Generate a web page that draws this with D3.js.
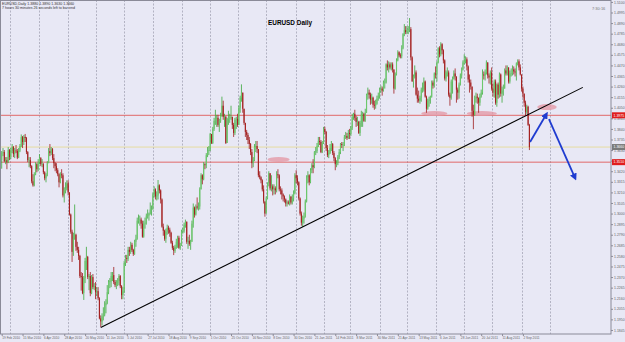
<!DOCTYPE html>
<html>
<head>
<meta charset="utf-8">
<script src="https://cdn.jsdelivr.net/npm/d3@7"></script>
<style>
body { margin: 0; background: #e8e8f5; }
svg { display: block; font-family: "Liberation Sans", Arial, sans-serif; }
</style>
</head>
<body>
<div id="wrapper"></div>
<script>
// EURUSD daily bars, 18 Feb 2010 .. 9 Sep 2011 (weekdays)
// prices stored as pips above 1.0000 (3530 -> 1.3530)
const startDate = "2010-02-18"
const firstOpen = 3590
const closes = [
 3530,3600,3610,3520,3530,3510,3630,
 3560,3620,3660,3590,3625,3620,3555,3625,3670,3760,3710,3760,3750,3610,3530,3530,3470,3320,3280,3390,3490,3440,3510,
 3550,3490,3490,3410,3350,3380,3500,3620,3600,3640,3550,3500,3470,3430,3390,3310,3390,3380,3180,3230,3250,3300,
 3210,2990,2820,2620,2750,2790,2670,2640,2580,2380,2370,2210,2360,2530,2570,2370,2380,2210,2370,2270,2280,
 2220,2230,2160,1960,1930,1980,1990,2090,2110,2220,2320,2330,2380,2390,2320,2290,2310,2330,2380,2280,2190,2230,
 2510,2560,2550,2640,2620,2690,2640,2600,2720,2750,2930,2940,2940,2900,2770,2900,2910,2980,2980,3000,3040,3040,
 3190,3240,3170,3180,3280,3230,3140,2870,2830,2750,2820,2860,2840,2810,2710,2660,2630,2670,2720,2760,2660,2680,
 2820,2830,2890,2920,2720,2730,2700,2720,2900,3060,2990,3070,3060,3070,3240,3380,3340,3490,3480,3580,3620,3630,
 3790,3700,3840,3920,3940,3950,3880,3920,3970,4070,3960,3960,3700,3940,3950,3950,3960,3880,3800,3930,3940,
 3880,4050,4150,4200,4040,3900,3810,3780,3730,3690,3610,3500,3530,3660,3670,3640,3380,3360,3330,3240,3120,3000,
 3150,3300,3400,3250,3270,3240,3250,3230,3390,3380,3240,3230,3190,3170,3140,3100,3110,3100,3170,3110,3150,3200,3380,
 3350,3310,3150,3000,2910,2950,2970,3120,3360,3380,3310,3430,3480,3460,3610,3620,3670,3720,3710,3610,3700,
 3840,3810,3650,3580,3600,3650,3690,3600,3550,3490,3500,3560,3610,3690,3680,3680,3760,3770,3750,3800,
 3790,3850,3960,3990,3950,3910,3910,3800,3900,3980,3990,3920,4000,4180,4200,4180,4130,4150,4080,4070,4090,4140,4170,
 4230,4240,4220,4300,4300,4480,4450,4480,4450,4480,4430,4240,4380,4520,4600,4570,4560,4640,4780,4820,4800,
 4820,4830,4830,4550,4310,4360,4400,4180,4140,4120,4150,4230,4230,4310,4160,4040,4120,4130,4160,4300,4270,4390,
 4380,4500,4640,4580,4680,4620,4520,4340,4400,4400,4180,4150,4310,4340,4390,4360,4230,4200,4280,4370,4430,4500,
 4520,4530,4460,4330,4300,4260,4020,3980,4140,4160,4150,4100,4160,4200,4380,4370,4400,4500,4370,4350,4400,
 4240,4200,4310,4100,4280,4180,4380,4190,4220,4240,4420,4390,4450,4310,4390,4390,4430,4410,4400,4490,4510,4450,4380,
 4240,4190,4100,4010,4060,3880,3660
]
const highs = [
 3620,3620,3650,3630,3560,3560,3660,
 3640,3650,3690,3670,3650,3680,3640,3650,3690,3785,3770,3780,3790,3760,3620,3560,3560,3480,3390,3410,3510,3500,3540,
 3590,3560,3540,3500,3420,3400,3520,3650,3690,3660,3650,3590,3510,3500,3450,3400,3410,3440,3400,3260,3310,3330,
 3330,3210,3000,2840,2810,3090,2800,2720,2670,2590,2420,2410,2380,2560,2670,2580,2400,2420,2390,2400,2310,
 2320,2270,2270,2170,1990,2010,2070,2130,2150,2290,2340,2360,2420,2420,2470,2340,2340,2360,2400,2390,2290,2270,
 2530,2590,2590,2670,2670,2720,2710,2650,2740,2790,2960,2990,2980,2960,2930,2930,2960,3000,3040,3010,3110,3080,
 3210,3270,3250,3220,3333,3290,3240,3150,2900,2840,2850,2890,2880,2860,2820,2730,2680,2690,2750,2780,2780,2710,
 2840,2860,2910,2940,2920,2770,2790,2740,2930,3100,3070,3090,3160,3110,3260,3400,3390,3510,3500,3600,3660,3670,
 3800,3780,3860,3950,4030,3980,3980,3940,4000,4160,4120,3990,3970,3950,4020,3990,4070,3960,3900,3950,3960,
 3990,4070,4170,4282,4200,4040,3900,3830,3800,3760,3700,3640,3560,3690,3720,3720,3640,3420,3370,3340,3280,3120,
 3170,3310,3420,3400,3380,3290,3290,3270,3420,3440,3390,3270,3250,3200,3180,3150,3130,3130,3190,3170,3190,3230,3400,
 3430,3380,3320,3160,3020,2980,3010,3140,3380,3420,3390,3450,3500,3540,3620,3660,3700,3760,3760,3730,3720,
 3860,3862,3820,3680,3630,3690,3720,3700,3620,3560,3530,3580,3640,3700,3710,3710,3780,3810,3800,3830,
 3840,3870,3990,4000,4030,3970,3960,3920,3920,4020,4010,4000,4040,4190,4250,4230,4200,4190,4160,4120,4130,4170,4200,
 4250,4270,4260,4320,4340,4490,4520,4510,4500,4500,4500,4430,4400,4540,4620,4610,4590,4670,4790,4880,4860,
 4860,4860,4940,4850,4560,4380,4470,4420,4250,4220,4170,4250,4300,4350,4320,4170,4140,4160,4170,4320,4320,4400,
 4460,4510,4650,4660,4700,4690,4630,4530,4420,4450,4420,4200,4330,4360,4420,4440,4360,4250,4300,4390,4450,4520,
 4580,4560,4550,4470,4380,4330,4260,4080,4170,4200,4190,4150,4190,4230,4430,4410,4430,4520,4500,4390,4420,
 4450,4290,4330,4330,4290,4300,4400,4390,4260,4280,4440,4470,4470,4450,4420,4440,4470,4460,4440,4500,4530,4530,4480,
 4380,4260,4190,4120,4080,4070,3890
]
const lows = [
 3500,3445,3570,3510,3490,3440,3500,
 3530,3540,3600,3560,3550,3600,3540,3550,3610,3660,3650,3680,3710,3590,3510,3460,3450,3300,3267,3270,3380,3410,3420,
 3490,3470,3460,3390,3330,3310,3370,3550,3570,3580,3530,3450,3420,3400,3370,3260,3300,3350,3160,3110,3200,3230,
 3180,2980,2800,2520,2580,2740,2630,2610,2540,2360,2235,2200,2143,2310,2440,2350,2240,2180,2200,2250,2240,
 2150,2180,2140,1950,1875,1890,1940,1980,2010,2100,2200,2260,2270,2330,2300,2270,2250,2280,2290,2260,2150,2150,
 2210,2480,2510,2530,2580,2600,2620,2580,2590,2670,2740,2900,2880,2850,2760,2760,2850,2890,2950,2930,2990,2980,
 3040,3160,3140,3130,3140,3200,3100,2860,2780,2730,2710,2790,2800,2770,2700,2640,2588,2610,2650,2660,2650,2640,
 2680,2800,2810,2860,2700,2650,2680,2640,2720,2860,2960,2980,3040,3030,3040,3240,3290,3330,3440,3450,3560,3580,
 3620,3690,3690,3820,3880,3860,3860,3810,3900,3960,3930,3860,3690,3700,3880,3900,3930,3840,3760,3780,3840,
 3860,3880,4000,4110,4000,3880,3760,3730,3690,3640,3580,3450,3460,3520,3610,3600,3360,3340,3300,3220,3100,2969,
 3000,3140,3270,3230,3220,3180,3190,3190,3210,3350,3220,3190,3140,3120,3110,3070,3070,3090,3080,3090,3090,3120,3190,
 3300,3280,3130,2980,2880,2867,2900,2960,3110,3300,3280,3300,3400,3400,3450,3580,3600,3660,3680,3600,3600,
 3690,3790,3620,3560,3550,3590,3620,3580,3520,3430,3460,3480,3540,3590,3650,3620,3670,3740,3730,3740,
 3740,3770,3830,3930,3920,3860,3870,3790,3770,3860,3860,3910,3910,4000,4130,4140,4080,4090,4050,4030,4040,4080,4120,
 4140,4200,4170,4210,4240,4290,4420,4400,4430,4420,4400,4190,4230,4370,4510,4550,4540,4540,4630,4760,4780,
 4780,4780,4800,4520,4310,4250,4340,4170,4100,4100,4090,4110,4200,4210,4150,4000,4030,4060,4090,4150,4240,4250,
 4340,4310,4490,4550,4560,4580,4490,4320,4310,4360,4160,4070,4130,4190,4330,4320,4100,4130,4140,4270,4340,4420,
 4480,4490,4420,4300,4200,4230,3960,3837,3970,4100,4090,4000,4070,4150,4180,4330,4320,4380,4340,4290,4280,
 4220,4160,4150,4080,4060,4140,4150,4160,4100,4170,4240,4370,4370,4290,4290,4360,4370,4380,4360,4320,4470,4420,4370,
 4210,4150,4060,3970,3990,3870,3630
]

const xTickLabels = ["19 Feb 2010","15 Mar 2010","6 Apr 2010","28 Apr 2010","20 May 2010","11 Jun 2010",
  "5 Jul 2010","27 Jul 2010","18 Aug 2010","9 Sep 2010","1 Oct 2010","25 Oct 2010","16 Nov 2010",
  "8 Dec 2010","30 Dec 2010","21 Jan 2011","14 Feb 2011","8 Mar 2011","30 Mar 2011","21 Apr 2011",
  "13 May 2011","6 Jun 2011","28 Jun 2011","20 Jul 2011","11 Aug 2011","2 Sep 2011"]
const yTicks = [1.5100,1.4995,1.4890,1.4785,1.4680,1.4575,1.4470,1.4365,1.4260,1.4155,1.4050,1.3945,
  1.3840,1.3735,1.3630,1.3525,1.3420,1.3315,1.3210,1.3105,1.3000,1.2895,1.2790,1.2685,1.2580,1.2475,
  1.2370,1.2265,1.2160,1.2055,1.1950,1.1845]

// drawn objects (bar index, price)
const hLines = [1.3975, 1.3510]
const trendLine = [[77, 1.1869], [447, 1.4252]]
const zones = [[205, 222, 1.3560, 1.3511], [323, 343, 1.4017, 1.3968], [358, 381, 1.4017, 1.3968], [412, 427, 1.4087, 1.4027]]
const arrows = [[[406.5, 1.3710], [419, 1.3985]], [[421, 1.3938], [441, 1.3353]]]

const pip = v => 1 + v / 10000
const bars = closes.map((c, i) => {
    const o = pip(i == 0 ? firstOpen : closes[i - 1])
    const cl = pip(c)
    return {
        i: i, o: o, c: cl,
        h: Math.max(pip(highs[i]), o, cl),
        l: Math.min(pip(lows[i]), o, cl)
    }
})

const width = 625, height = 342
const plotW = 611, plotH = 334

const svg = d3.select("#wrapper").append("svg")
    .attr("width", width).attr("height", height)

svg.append("rect").attr("width", width).attr("height", height).attr("fill", "#e8e8f5")

const x = d3.scaleLinear().domain([0, 469]).range([0.4, 611.5])
const y = d3.scaleLinear().domain([1.1805, 1.5119]).range([plotH, 0])

// month grid (dashed)
const day0 = new Date(startDate + "T00:00:00Z")
const dates = []
for (let d = new Date(day0); dates.length < 430; d.setUTCDate(d.getUTCDate() + 1)) {
    const wd = d.getUTCDay()
    if (wd != 0 && wd != 6) dates.push(new Date(d))
}
const monthStarts = dates.map((d, i) => i).filter(i => i > 0 && dates[i].getUTCMonth() != dates[i - 1].getUTCMonth())

svg.append("g").selectAll("line").data(monthStarts).enter().append("line")
    .attr("x1", d => Math.round(x(d)) + 0.5).attr("x2", d => Math.round(x(d)) + 0.5)
    .attr("y1", 0).attr("y2", plotH)
    .attr("stroke", "#a4a4b6").attr("stroke-width", 0.8).attr("stroke-dasharray", "2,1.5")

// horizontal lines
svg.append("line")
    .attr("x1", 0).attr("x2", plotW).attr("y1", y(bars[bars.length - 1].c)).attr("y2", y(bars[bars.length - 1].c))
    .attr("stroke", "#e6dca0").attr("stroke-width", 1)
svg.append("g").selectAll("line").data(hLines).enter().append("line")
    .attr("x1", 0).attr("x2", plotW).attr("y1", d => y(d)).attr("y2", d => y(d))
    .attr("stroke", "#e05a5a").attr("stroke-width", 0.9)

// zones
svg.append("g").selectAll("ellipse").data(zones).enter().append("ellipse")
    .attr("cx", d => (x(d[0]) + x(d[1])) / 2).attr("cy", d => (y(d[2]) + y(d[3])) / 2)
    .attr("rx", d => (x(d[1]) - x(d[0])) / 2).attr("ry", d => (y(d[3]) - y(d[2])) / 2)
    .attr("fill", "#e39aa8").attr("opacity", 0.8)

// candles
const bw = 1.1
const candles = svg.append("g").selectAll("g").data(bars).enter().append("g")
candles.append("line")
    .attr("x1", d => x(d.i)).attr("x2", d => x(d.i))
    .attr("y1", d => y(d.h)).attr("y2", d => y(d.l))
    .attr("stroke", d => d.c >= d.o ? "#3aa83a" : "#9e1c1c").attr("stroke-width", 0.8)
candles.append("rect")
    .attr("x", d => x(d.i) - bw / 2).attr("width", bw)
    .attr("y", d => y(Math.max(d.o, d.c)))
    .attr("height", d => Math.max(0.6, Math.abs(y(d.o) - y(d.c))))
    .attr("fill", d => d.c >= d.o ? "#6cc86c" : "#a52020")

// trend line
svg.append("line")
    .attr("x1", x(trendLine[0][0])).attr("y1", y(trendLine[0][1]))
    .attr("x2", x(trendLine[1][0])).attr("y2", y(trendLine[1][1]))
    .attr("stroke", "#000").attr("stroke-width", 1.1)

// arrows
svg.append("defs").append("marker")
    .attr("id", "ah").attr("viewBox", "0 0 10 10").attr("refX", 6).attr("refY", 5)
    .attr("markerWidth", 4).attr("markerHeight", 4).attr("orient", "auto")
    .append("path").attr("d", "M0,0L10,5L0,10z").attr("fill", "#1f3cd0")
svg.append("g").selectAll("line").data(arrows).enter().append("line")
    .attr("x1", d => x(d[0][0])).attr("y1", d => y(d[0][1]))
    .attr("x2", d => x(d[1][0])).attr("y2", d => y(d[1][1]))
    .attr("stroke", "#1f3cd0").attr("stroke-width", 1.8).attr("marker-end", "url(#ah)")

// frame
svg.append("rect").attr("x", 0.5).attr("y", 0.5).attr("width", plotW - 0.5).attr("height", plotH - 0.5)
    .attr("fill", "none").attr("stroke", "#8a8a98").attr("stroke-width", 1)

// axes
const yAxis = svg.append("g").attr("transform", `translate(${plotW},0)`)
    .call(d3.axisRight(y).tickValues(yTicks).tickSize(2).tickFormat(d3.format(".4f")))
yAxis.select(".domain").remove()
yAxis.selectAll("line").attr("stroke", "#8a8a98")
yAxis.selectAll("text").attr("x", 3).attr("font-size", "3.5px").attr("fill", "#666")

const xTickIdx = xTickLabels.map((d, k) => 1 + 16 * k)
const xAxis = svg.append("g").attr("transform", `translate(0,${plotH})`)
    .call(d3.axisBottom(x).tickValues(xTickIdx).tickSize(2).tickFormat((d, k) => xTickLabels[k]))
xAxis.select(".domain").remove()
xAxis.selectAll("line").attr("stroke", "#8a8a98")
xAxis.selectAll("text").attr("y", 2.5).attr("text-anchor", "start").attr("font-size", "3.2px").attr("fill", "#666")

// price labels on the axis
const lastBar = bars[bars.length - 1]
const tags = hLines.map(p => ({ p: p, fill: "#e01e1e" })).concat([{ p: lastBar.c, fill: "#7a7a7a" }])
const tag = svg.append("g").selectAll("g").data(tags).enter().append("g")
    .attr("transform", d => `translate(${plotW + 1},${y(d.p)})`)
tag.append("rect").attr("x", 0).attr("y", -3).attr("width", 13).attr("height", 6).attr("fill", d => d.fill)
tag.append("text").attr("x", 1.5).attr("y", 1.3).attr("font-size", "3.5px").attr("fill", "#fff")
    .text(d => d.p.toFixed(4))

// texts
svg.append("text").attr("x", 2).attr("y", 4.5).attr("font-size", "3.6px").attr("fill", "#333")
    .text(`EURUSD,Daily  ${lastBar.o.toFixed(4)} ${lastBar.h.toFixed(4)} ${lastBar.l.toFixed(4)} ${lastBar.c.toFixed(4)}`)
svg.append("text").attr("x", 2).attr("y", 8.8).attr("font-size", "3.6px").attr("fill", "#333")
    .text("7 hours 30 minutes 26 seconds left to bar end")
svg.append("text").attr("x", 268).attr("y", 25).attr("font-size", "6.4px").attr("font-weight", "bold").attr("fill", "#000")
    .text("EURUSD Daily")
svg.append("text").attr("x", 592).attr("y", 10).attr("font-size", "4px").attr("fill", "#777")
    .text("7:30:16")
</script>
</body>
</html>
